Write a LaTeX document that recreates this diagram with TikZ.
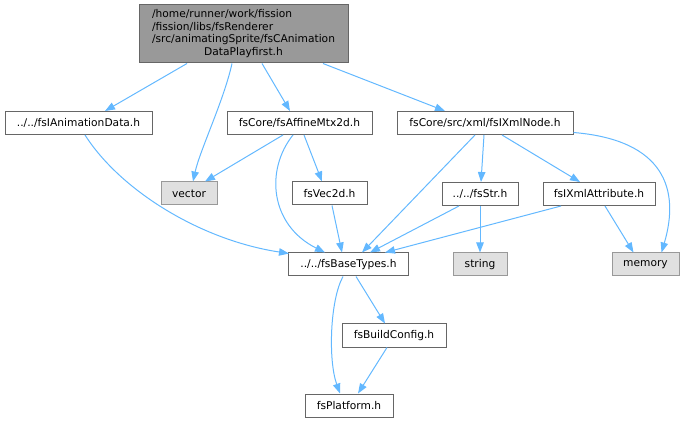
\documentclass[tikz,border=0pt]{standalone}
\usepackage{fontspec}
\setmainfont{DejaVu Sans}
\usetikzlibrary{arrows.meta,calc}
\definecolor{edgec}{HTML}{63B8FF}
\definecolor{bordc}{HTML}{666666}
\definecolor{topfill}{HTML}{999999}
\definecolor{extfill}{HTML}{E0E0E0}
\definecolor{extbord}{HTML}{999999}
\begin{document}
\begin{tikzpicture}[x=0.75pt,y=-0.75pt,
  every node/.style={font=\fontsize{8}{9.4}\selectfont},
  file/.style={draw=bordc,fill=white,line width=0.75pt,minimum height=17.25pt,inner sep=0pt,anchor=center},
  ext/.style={draw=extbord,fill=extfill,line width=0.75pt,minimum height=17.25pt,inner sep=0pt,anchor=center},
  dep/.style={draw=edgec,line width=0.75pt,-{Triangle[length=7.5pt,width=5.6pt]}}]
\path[use as bounding box] (0,0) rectangle (684,423);

\node[draw=bordc,fill=topfill,line width=0.75pt,minimum width=156.75pt,minimum height=43.5pt,inner sep=0pt] (top) at (243.5,34)
  {\begin{tabular}{@{}l@{}}/home/runner/work/fission\\/fission/libs/fsRenderer\\/src/animatingSprite/fsCAnimation\\\multicolumn{1}{@{}c@{}}{DataPlayfirst.h}\end{tabular}};
\node[file,minimum width=110.25pt] (anim) at (78.5,123) {../../fsIAnimationData.h};
\node[file,minimum width=108.75pt] (affine) at (299.5,123) {fsCore/fsAffineMtx2d.h};
\node[file,minimum width=132pt] (xmlnode) at (485,123) {fsCore/src/xml/fsIXmlNode.h};
\node[ext,minimum width=42pt] (vector) at (189,193.5) {vector};
\node[file,minimum width=56.25pt] (vec2d) at (329.5,193.5) {fsVec2d.h};
\node[file,minimum width=57pt] (str) at (480,194) {../../fsStr.h};
\node[file,minimum width=84pt] (attr) at (599,194) {fsIXmlAttribute.h};
\node[file,minimum width=90pt] (base) at (348.5,264.5) {../../fsBaseTypes.h};
\node[ext,minimum width=40.5pt] (string) at (480,264.5) {string};
\node[ext,minimum width=50.25pt] (memory) at (645.5,264.5) {memory};
\node[file,minimum width=78pt] (build) at (394,335.5) {fsBuildConfig.h};
\node[file,minimum width=66pt] (plat) at (349,405.5) {fsPlatform.h};

\draw[dep] ($(top.south)+(-56.5,0)$) -- ($(anim.north)+(26.5,0)$);
\draw[dep] ($(top.south)+(-11.5,0)$) .. controls (224,100) and (200,150) .. ($(vector.north)+(4,0)$);
\draw[dep] ($(top.south)+(18.5,0)$) -- ($(affine.north)+(-9.5,0)$);
\draw[dep] ($(top.south)+(79.5,0)$) -- ($(xmlnode.north)+(-40,0)$);
\draw[dep] ($(anim.south)+(6.5,0)$) .. controls (120,190) and (200,240) .. ($(base.north west)+(1,1)$);
\draw[dep] ($(affine.south)+(-16.5,0)$) -- ($(vector.north)+(16,0)$);
\draw[dep] ($(affine.south)+(-6.5,0)$) .. controls (265,170) and (270,225) .. ($(base.north)+(-23.5,0)$);
\draw[dep] ($(affine.south)+(4.5,0)$) -- ($(vec2d.north)+(-7.5,0)$);
\draw[dep] ($(vec2d.south)+(2.5,0)$) -- ($(base.north)+(-6.5,0)$);
\draw[dep] ($(xmlnode.south)+(-10,0)$) -- ($(base.north)+(13.5,0)$);
\draw[dep] ($(xmlnode.south)+(-1,0)$) -- ($(str.north)+(1,0)$);
\draw[dep] ($(xmlnode.south)+(17,0)$) -- ($(attr.north)+(-19,0)$);
\draw[dep] ($(xmlnode.south east)+(0,-2.5)$) .. controls (665,140) and (680,190) .. ($(memory.north)+(16,0)$);
\draw[dep] ($(str.south)+(-21,0)$) -- ($(base.north)+(21.5,0)$);
\draw[dep] (str.south) -- (string.north);
\draw[dep] ($(attr.south)+(-38,0)$) -- ($(base.north)+(36.5,0)$);
\draw[dep] ($(attr.south)+(6,0)$) -- ($(memory.north)+(-12,0)$);
\draw[dep] ($(base.south)+(7.5,0)$) -- ($(build.north)+(-9,0)$);
\draw[dep] ($(base.south)+(-5.5,0)$) .. controls (330,300) and (328,360) .. ($(plat.north)+(-9,0)$);
\draw[dep] ($(build.south)+(-7,0)$) -- ($(plat.north)+(9,0)$);
\end{tikzpicture}
\end{document}
